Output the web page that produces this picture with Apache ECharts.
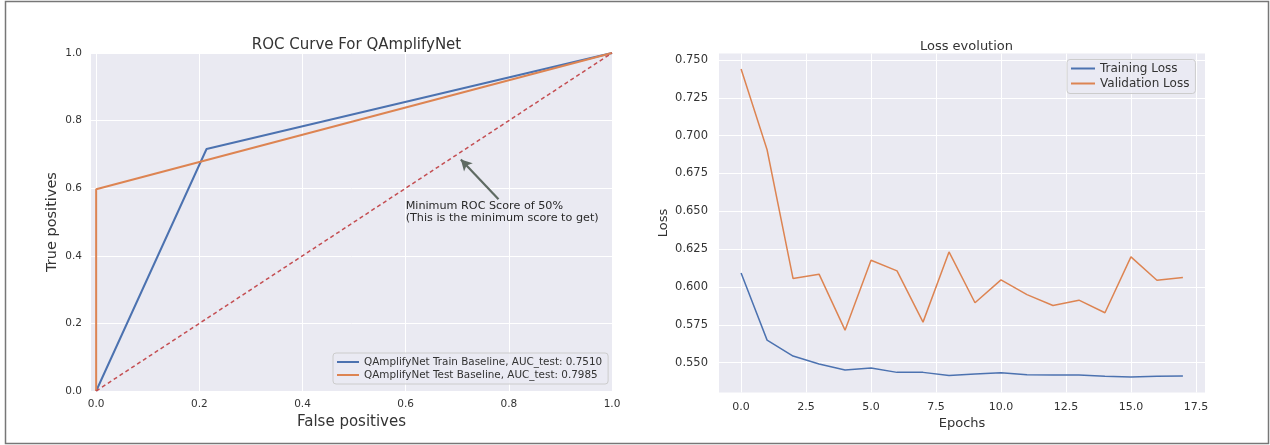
<!DOCTYPE html>
<html>
<head>
<meta charset="utf-8">
<script src="https://cdn.jsdelivr.net/npm/echarts@6/dist/echarts.min.js"></script>
<style>
html,body{margin:0;padding:0;background:#fff;}
#c{width:1270px;height:445px;}
</style>
</head>
<body>
<div id="c"></div>
<script>
// ---------- data ----------
const rocTrainFpr = [0, 0.214, 1];
const rocTrainTpr = [0, 0.716, 1];
const rocTestFpr = [0, 0, 1];
const rocTestTpr = [0, 0.597, 1];
const chanceFpr = [0, 1];
const chanceTpr = [0, 1];
const rocTicks = [0, 0.2, 0.4, 0.6, 0.8, 1.0];
const rocTrainName = 'QAmplifyNet Train Baseline, AUC_test: 0.7510';
const rocTestName = 'QAmplifyNet Test Baseline, AUC_test: 0.7985';
const annotationText = 'Minimum ROC Score of 50%\n(This is the minimum score to get)';
const annotationTextXY = [0.6, 0.495];
const annotationArrowFrom = [0.78, 0.567];
const annotationArrowTo = [0.707, 0.685];

const epochs = [0, 1, 2, 3, 4, 5, 6, 7, 8, 9, 10, 11, 12, 13, 14, 15, 16, 17];
const trainingLoss = [0.6093, 0.5649, 0.5544, 0.5491, 0.5452, 0.5465, 0.5436, 0.5436, 0.5416, 0.5425, 0.5434, 0.5421, 0.5419, 0.5418, 0.5410, 0.5406, 0.5410, 0.5412];
const validationLoss = [0.7441, 0.6907, 0.6056, 0.6085, 0.5715, 0.6177, 0.6107, 0.5768, 0.6232, 0.5896, 0.6047, 0.5950, 0.5878, 0.5913, 0.5830, 0.6199, 0.6045, 0.6063];
const lossXTicks = [0, 2.5, 5, 7.5, 10, 12.5, 15, 17.5];
const lossYTicks = [0.55, 0.575, 0.6, 0.625, 0.65, 0.675, 0.7, 0.725, 0.75];

// ---------- styles ----------
const FONT = 'DejaVu Sans';
const TXT = '#333333';
const BLUE = '#4c72b0', ORANGE = '#dd8452', RED = '#c44e52';
const zip = (a, b) => a.map((v, i) => [v, b[i]]);

function axisCommon(ticks, fmt, fs, margin) {
  return {
    axisLine: {show: false},
    axisTick: {show: false, customValues: ticks},
    splitLine: {show: true, lineStyle: {color: '#ffffff', width: 1}},
    axisLabel: {customValues: ticks, formatter: fmt, fontFamily: FONT, fontSize: fs, color: TXT, margin: margin}
  };
}

const chart = echarts.init(document.getElementById('c'), null, {renderer: 'canvas'});
chart.setOption({
  animation: false,
  backgroundColor: '#ffffff',
  title: [
    {text: 'ROC Curve For QAmplifyNet', left: 351.5, top: 33, textAlign: 'center',
     textStyle: {fontFamily: FONT, fontSize: 15, fontWeight: 'normal', color: TXT}},
    {text: 'Loss evolution', left: 961.5, top: 35, textAlign: 'center',
     textStyle: {fontFamily: FONT, fontSize: 13, fontWeight: 'normal', color: TXT}}
  ],
  graphic: [
    {type: 'rect', shape: {x: 5.5, y: 1.5, width: 1263, height: 442}, style: {fill: 'none', stroke: '#777777', lineWidth: 1.5}, silent: true}
  ],
  grid: [
    {left: 91, top: 53, width: 521, height: 338, show: true, backgroundColor: '#eaeaf2', borderWidth: 0},
    {left: 719, top: 53.5, width: 486, height: 339, show: true, backgroundColor: '#eaeaf2', borderWidth: 0}
  ],
  xAxis: [
    Object.assign({type: 'value', gridIndex: 0, min: -0.01, max: 1.0,
      name: 'False positives', nameLocation: 'middle', nameGap: 22,
      nameTextStyle: {fontFamily: FONT, fontSize: 15, color: TXT}},
      axisCommon(rocTicks, v => v.toFixed(1), 10.5, 8)),
    Object.assign({type: 'value', gridIndex: 1, min: -0.85, max: 17.85,
      name: 'Epochs', nameLocation: 'middle', nameGap: 24,
      nameTextStyle: {fontFamily: FONT, fontSize: 13, color: TXT}},
      axisCommon(lossXTicks, v => v.toFixed(1), 11, 9))
  ],
  yAxis: [
    Object.assign({type: 'value', gridIndex: 0, min: 0, max: 1.0,
      name: 'True positives', nameLocation: 'middle', nameGap: 31, nameRotate: 90,
      nameTextStyle: {fontFamily: FONT, fontSize: 14.5, color: TXT}},
      axisCommon(rocTicks, v => v.toFixed(1), 10.5, 9)),
    Object.assign({type: 'value', gridIndex: 1, min: 0.5303, max: 0.7543,
      name: 'Loss', nameLocation: 'middle', nameGap: 49, nameRotate: 90,
      nameTextStyle: {fontFamily: FONT, fontSize: 13, color: TXT}},
      axisCommon(lossYTicks, v => v.toFixed(3), 11.5, 11))
  ],
  legend: [
    {left: 333, top: 353, orient: 'vertical', padding: [4, 6, 4, 4], itemGap: 3,
     itemWidth: 22, itemHeight: 2, icon: 'rect',
     backgroundColor: 'rgba(234,234,242,0.8)', borderColor: '#cccccc', borderWidth: 1, borderRadius: 3,
     textStyle: {fontFamily: FONT, fontSize: 10.4, color: TXT},
     itemTextGap: 7, data: [rocTrainName, rocTestName]},
    {left: 1067, top: 59.5, orient: 'vertical', padding: [3, 6, 4, 4], itemGap: 3,
     itemWidth: 24, itemHeight: 2, icon: 'rect',
     backgroundColor: 'rgba(234,234,242,0.8)', borderColor: '#cccccc', borderWidth: 1, borderRadius: 3,
     textStyle: {fontFamily: FONT, fontSize: 12, color: TXT},
     itemTextGap: 12, data: ['Training Loss', 'Validation Loss']}
  ],
  series: [
    {name: rocTrainName, type: 'line', xAxisIndex: 0, yAxisIndex: 0, data: zip(rocTrainFpr, rocTrainTpr),
     showSymbol: false, symbol: 'none', lineStyle: {color: BLUE, width: 2}, itemStyle: {color: BLUE}},
    {name: rocTestName, type: 'line', xAxisIndex: 0, yAxisIndex: 0, data: zip(rocTestFpr, rocTestTpr),
     showSymbol: false, symbol: 'none', lineStyle: {color: ORANGE, width: 2}, itemStyle: {color: ORANGE}},
    {name: 'chance', type: 'line', xAxisIndex: 0, yAxisIndex: 0, data: zip(chanceFpr, chanceTpr),
     showSymbol: false, symbol: 'none', lineStyle: {color: RED, width: 1.5, type: [4, 3]},
     markLine: {silent: true, symbol: ['none', 'arrow'], symbolSize: [9, 11],
       lineStyle: {color: '#5f6b63', width: 2.2, type: 'solid'}, label: {show: false},
       data: [[{coord: annotationArrowFrom}, {coord: annotationArrowTo}]]},
     markPoint: {silent: true, symbol: 'circle', symbolSize: 0,
       label: {show: true, position: [0, 0], align: 'left', verticalAlign: 'bottom',
         formatter: annotationText, fontFamily: FONT, fontSize: 11.2, lineHeight: 12, color: '#2a2a2a'},
       data: [{coord: annotationTextXY}]}},
    {name: 'Training Loss', type: 'line', xAxisIndex: 1, yAxisIndex: 1, data: zip(epochs, trainingLoss),
     showSymbol: false, symbol: 'none', lineStyle: {color: BLUE, width: 1.5}, itemStyle: {color: BLUE}},
    {name: 'Validation Loss', type: 'line', xAxisIndex: 1, yAxisIndex: 1, data: zip(epochs, validationLoss),
     showSymbol: false, symbol: 'none', lineStyle: {color: ORANGE, width: 1.5}, itemStyle: {color: ORANGE}}
  ]
});
</script>
</body>
</html>
